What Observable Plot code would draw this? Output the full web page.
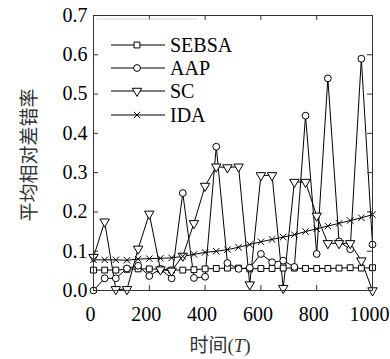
<!DOCTYPE html>
<html>
<head>
<meta charset="utf-8">
<script src="https://cdn.jsdelivr.net/npm/d3@7"></script>
<script src="https://cdn.jsdelivr.net/npm/@observablehq/plot@0.6"></script>
<style>
  html, body { margin: 0; padding: 0; background: #fff; }
  #chart { position: relative; width: 390px; height: 359px; }
  #chart svg, #chart svg text {
    font-family: "Liberation Serif", "Times New Roman", "Noto Sans CJK SC", serif !important;
  }
</style>
</head>
<body>
<div id="chart"></div>
<script>
// Time steps (T)
const times = [0, 40, 80, 120, 160, 200, 240, 280, 320, 360, 400, 440, 480,
               520, 560, 600, 640, 680, 720, 760, 800, 840, 880, 920, 960, 1000];

// Mean relative error rate per algorithm
const sebsa = [0.052, 0.052, 0.052, 0.054, 0.055, 0.055, 0.054, 0.052, 0.052, 0.053, 0.055, 0.056, 0.057,
               0.057, 0.055, 0.056, 0.056, 0.057, 0.057, 0.056, 0.056, 0.056, 0.057, 0.058, 0.057, 0.058];
const aap   = [0.0, 0.031, 0.031, 0.056, 0.063, 0.037, 0.055, 0.031, 0.248, 0.032, 0.035, 0.366, 0.07,
               0.055, 0.058, 0.093, 0.072, 0.076, 0.06, 0.445, 0.093, 0.54, 0.125, 0.105, 0.59, 0.117];
const sc    = [0.085, 0.175, 0.003, 0.003, 0.106, 0.195, 0.053, 0.05, 0.088, 0.171, 0.266, 0.315, 0.313,
               0.315, 0.015, 0.293, 0.293, 0.006, 0.276, 0.276, 0.19, 0.12, 0.12, 0.12, 0.076, 0.0];
const ida   = [0.078, 0.078, 0.078, 0.077, 0.08, 0.081, 0.082, 0.083, 0.087, 0.092, 0.097, 0.1, 0.104,
               0.11, 0.117, 0.124, 0.13, 0.136, 0.142, 0.15, 0.157, 0.164, 0.171, 0.178, 0.185, 0.193];

const seriesNames = ["SEBSA", "AAP", "SC", "IDA"];
const seriesValues = [sebsa, aap, sc, ida];

// Axis ticks and titles
const xTicks = [0, 200, 400, 600, 800, 1000];
const yTicks = [0, 0.1, 0.2, 0.3, 0.4, 0.5, 0.6, 0.7];
const yTitle = "平均相对差错率";
const xTitleParts = ["时间(", "T", ")"];

// Marker style per series
const markers = {
  SEBSA: {symbol: "square", r: 3.3, rotate: 0, fill: "white"},
  AAP:   {symbol: "circle", r: 3.4, rotate: 0, fill: "white"},
  SC:    {symbol: "triangle", r: 3.5, rotate: 180, fill: "white"},
  IDA:   {symbol: "times", r: 3.0, rotate: 0, fill: "none"}
};

const rows = seriesNames.flatMap((name, i) =>
  times.map((t, j) => ({t, v: seriesValues[i][j], series: name})));

const W = 390, H = 359;
const mL = 93, mR = 18, mT = 15, mB = 69;
const innerW = W - mL - mR, innerH = H - mT - mB;
const tickLen = 5;

const dotMarks = seriesNames.map(name => {
  const m = markers[name];
  return Plot.dot(rows.filter(d => d.series === name), {
    x: "t", y: "v", symbol: () => m.symbol, r: m.r, rotate: m.rotate,
    fill: m.fill, stroke: "black", strokeWidth: 1
  });
});

const plot = Plot.plot({
  width: W, height: H,
  marginLeft: mL, marginRight: mR, marginTop: mT, marginBottom: mB,
  style: {fontSize: "20px", color: "black", background: "white"},
  x: {domain: [0, 1000]},
  y: {domain: [0, 0.7]},
  symbol: {type: "identity"},
  marks: [
    Plot.line(rows, {x: "t", y: "v", z: "series", stroke: "black", strokeWidth: 1}),
    ...dotMarks,
    // inward ticks on all four sides
    Plot.tickX(xTicks, {x: d => d, insetTop: innerH - tickLen, stroke: "#333"}),
    Plot.tickX(xTicks, {x: d => d, insetBottom: innerH - tickLen, stroke: "#333"}),
    Plot.tickY(yTicks, {y: d => d, insetRight: innerW - tickLen, stroke: "#333"}),
    Plot.tickY(yTicks, {y: d => d, insetLeft: innerW - tickLen, stroke: "#333"}),
    Plot.axisX({ticks: xTicks, tickSize: 0, tickPadding: 16, label: null, fontSize: 20,
                dx: -3, tickFormat: d3.format("d")}),
    Plot.axisY({ticks: yTicks, tickSize: 0, tickPadding: 6, label: null, fontSize: 20,
                tickFormat: d3.format(".1f")}),
    Plot.frame({stroke: "#333", strokeWidth: 1})
  ]
});

document.getElementById("chart").appendChild(plot);

const svg = d3.select(plot);

// Legend inside the plot area
const legend = svg.append("g").attr("class", "legend");
legend.append("line")
  .attr("x1", 97).attr("x2", 197).attr("y1", 19).attr("y2", 19)
  .attr("stroke", "#d4d4d4").attr("stroke-width", 1);
const symbolTypes = {square: d3.symbolSquare, circle: d3.symbolCircle,
                     triangle: d3.symbolTriangle, times: d3.symbolTimes};
const legendRowsY = [45, 68, 91, 115];
seriesNames.forEach((name, i) => {
  const m = markers[name];
  const y = legendRowsY[i];
  const g = legend.append("g");
  g.append("line").attr("x1", 111).attr("x2", 165).attr("y1", y).attr("y2", y)
    .attr("stroke", "black").attr("stroke-width", 1.2);
  g.append("path")
    .attr("d", d3.symbol(symbolTypes[m.symbol], Math.PI * m.r * m.r)())
    .attr("transform", `translate(137,${y}) rotate(${m.rotate})`)
    .attr("fill", m.fill).attr("stroke", "black").attr("stroke-width", 1);
  g.append("text").attr("x", 170).attr("y", y).attr("dy", "0.35em")
    .attr("text-anchor", "start").attr("font-size", 20).attr("fill", "black")
    .text(name);
});

// Axis titles
svg.append("text")
  .attr("transform", "translate(29,155) rotate(-90)")
  .attr("text-anchor", "middle").attr("dominant-baseline", "central")
  .attr("font-size", 19).attr("fill", "#333")
  .text(yTitle);

const xt = svg.append("text")
  .attr("x", 220).attr("y", 352).attr("text-anchor", "middle")
  .attr("font-size", 19).attr("fill", "#333");
xt.append("tspan").text(xTitleParts[0]);
xt.append("tspan").attr("font-style", "italic").text(xTitleParts[1]);
xt.append("tspan").text(xTitleParts[2]);
</script>
</body>
</html>
